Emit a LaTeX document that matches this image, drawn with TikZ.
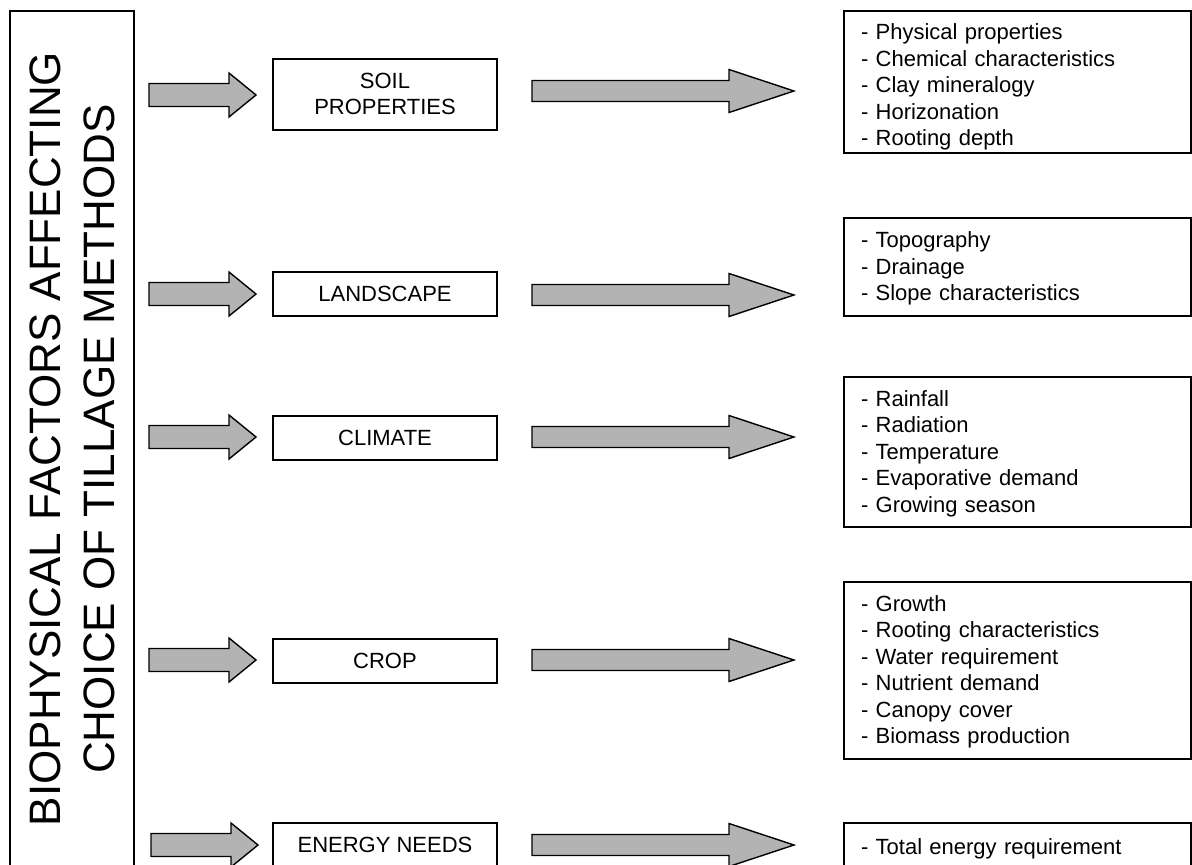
\documentclass[tikz,border=0pt]{standalone}
\usepackage{fontspec}
\setmainfont{Liberation Sans}
\definecolor{arrgray}{RGB}{179,179,179}
\newcommand{\ls}{\rule[-6.25pt]{0pt}{26.5pt}}
\newcommand{\lstall}{\rule[-6.25pt]{0pt}{33.5pt}}
\newcommand{\smallarr}[2]{%
  \draw[blockarr] (#1,#2-11.5) -- (#1+80,#2-11.5) -- (#1+80,#2-22) -- (#1+107,#2)
    -- (#1+80,#2+22) -- (#1+80,#2+11.5) -- (#1,#2+11.5) -- cycle;}
\newcommand{\bigarr}[2]{%
  \draw[blockarr] (#1,#2-10.5) -- (#1+197,#2-10.5) -- (#1+197,#2-21.5) -- (#1+262,#2)
    -- (#1+197,#2+21.5) -- (#1+197,#2+10.5) -- (#1,#2+10.5) -- cycle;}
\begin{document}
\begin{tikzpicture}[x=1pt,y=-1pt,
  every node/.style={inner sep=0pt, outer sep=0pt},
  bodyfont/.style={font=\fontsize{22}{26.5}\selectfont},
  midbox/.style={draw=black, line width=1.4pt, fill=white, minimum width=224pt,
    align=center, bodyfont, anchor=north west},
  listbox/.style={draw=black, line width=1.4pt, fill=white, anchor=north west,
    text width=313pt, inner xsep=17pt, align=left, bodyfont},
  titlebox/.style={draw=black, line width=1.4pt, rotate=90, align=center,
    font=\fontsize{44}{54}\selectfont},
  blockarr/.style={draw=black, line width=1.4pt, fill=arrgray, line join=miter}]
\useasboundingbox (0,0) rectangle (1192,865);
\fill[white] (0,0) rectangle (1192,865);
\clip (0,0) rectangle (1192,865);

% title box
\node[titlebox, minimum width=856pt, minimum height=124pt] (title) at (72,439)
  {BIOPHYSICAL FACTORS AFFECTING\\CHOICE OF TILLAGE METHODS};

% middle boxes
\node[midbox, minimum height=71pt] (soil) at (273,59) {\ls SOIL\\\ls PROPERTIES};
\node[midbox, minimum height=44pt] (land) at (273,272) {\ls LANDSCAPE};
\node[midbox, minimum height=44pt] (clim) at (273,416) {\ls CLIMATE};
\node[midbox, minimum height=44pt] (crop) at (273,639) {\ls CROP};
\node[midbox, minimum height=44pt] (energy) at (273,823) {\ls ENERGY NEEDS};

% right boxes
\node[listbox, minimum height=142pt] (soilR) at (844,11)
  {\lstall - Physical properties\\- Chemical characteristics\\- Clay mineralogy\\- Horizonation\\\ls - Rooting depth};
\node[listbox, minimum height=98pt] (landR) at (844,218)
  {\ls - Topography\\- Drainage\\\ls - Slope characteristics};
\node[listbox, minimum height=150pt] (climR) at (844,377)
  {\ls - Rainfall\\- Radiation\\- Temperature\\- Evaporative demand\\\ls - Growing season};
\node[listbox, minimum height=177pt] (cropR) at (844,582)
  {\ls - Growth\\- Rooting characteristics\\- Water requirement\\- Nutrient demand\\- Canopy cover\\\ls - Biomass production};
\node[listbox, minimum height=48pt] (energyR) at (844,823)
  {\ls - Total energy requirement};

% small arrows
\smallarr{149}{95}
\smallarr{149}{294}
\smallarr{149}{437}
\smallarr{149}{660}
\smallarr{151}{845}

% big arrows
\bigarr{532}{91}
\bigarr{532}{295}
\bigarr{532}{437}
\bigarr{532}{660}
\bigarr{532}{845}
\end{tikzpicture}
\end{document}
